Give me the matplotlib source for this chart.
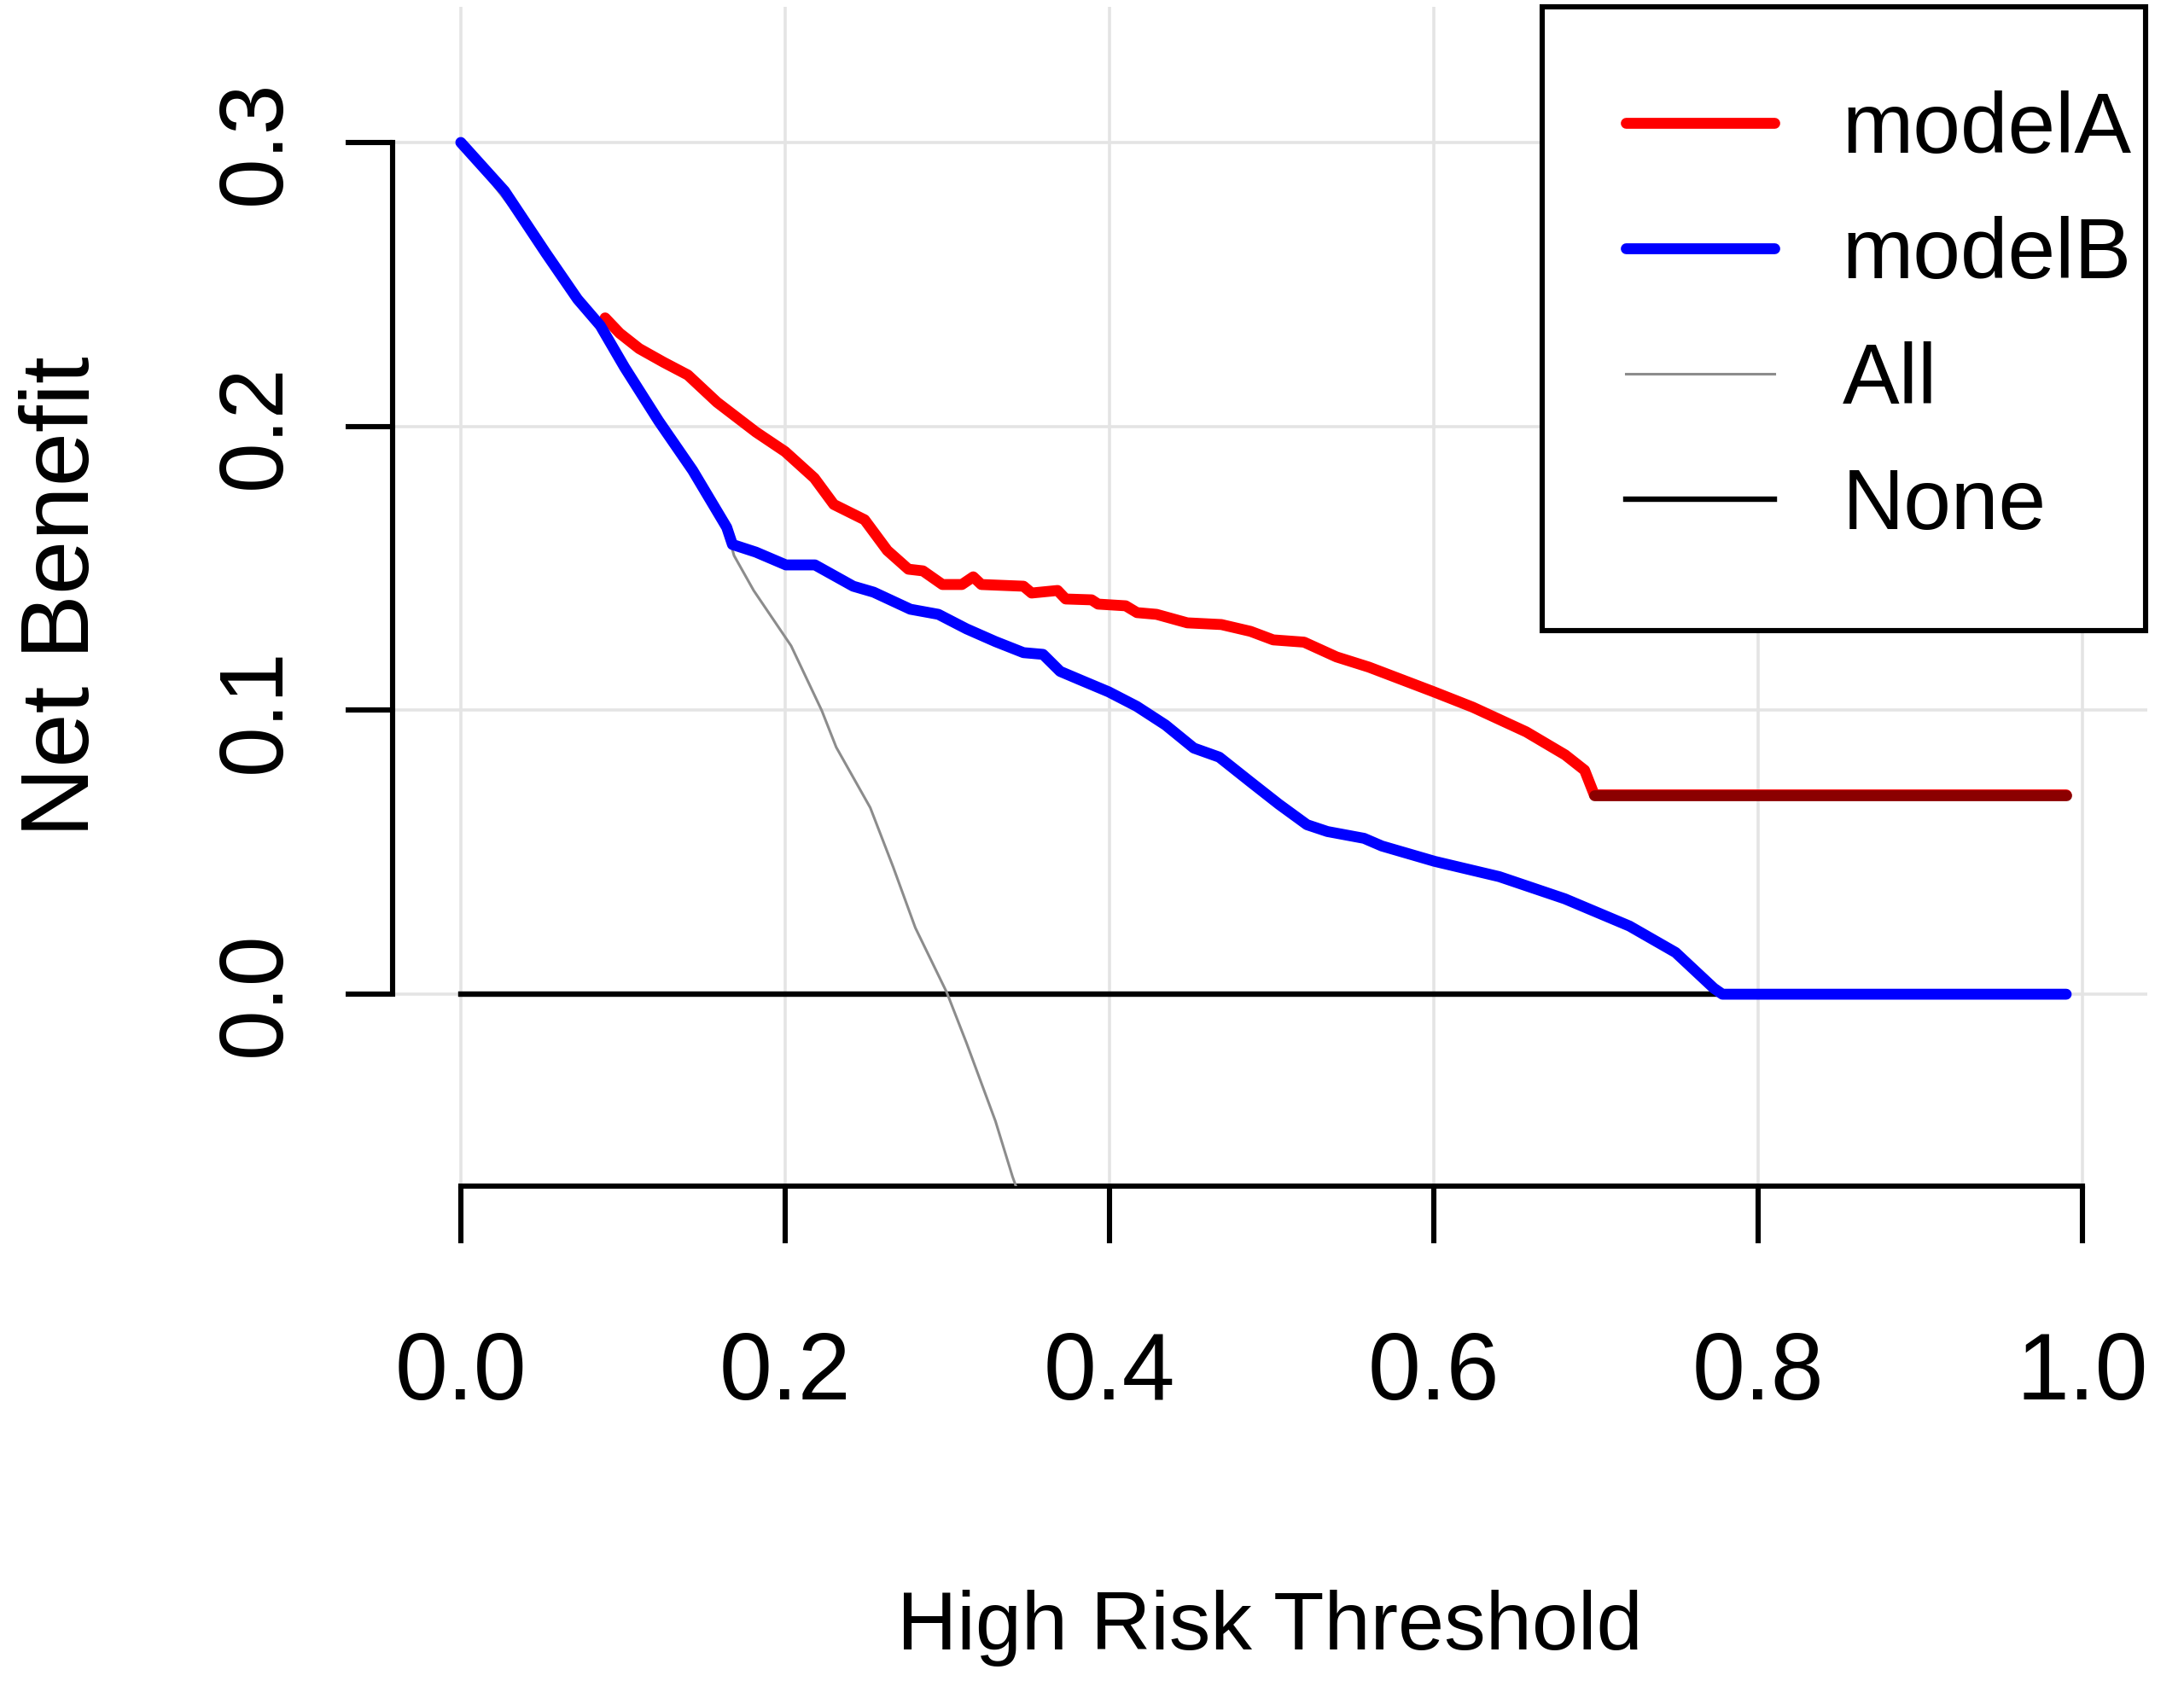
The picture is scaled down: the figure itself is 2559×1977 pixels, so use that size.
import matplotlib
matplotlib.use('Agg')
import matplotlib.pyplot as plt

# decision curve values
modelA_t = [0.089, 0.098, 0.110, 0.125, 0.140, 0.158, 0.182, 0.200, 0.218, 0.230,
            0.249, 0.263, 0.276, 0.285, 0.297, 0.309, 0.316, 0.321, 0.347, 0.352,
            0.368, 0.373, 0.389, 0.393, 0.410, 0.417, 0.429, 0.448, 0.469, 0.487,
            0.501, 0.520, 0.540, 0.560, 0.600, 0.624, 0.657, 0.681, 0.693, 0.699, 0.99]
modelA_v = [0.2382, 0.2328, 0.2274, 0.2226, 0.2181, 0.2085, 0.1980, 0.1911, 0.1818, 0.1725,
            0.1671, 0.1563, 0.1497, 0.1491, 0.1443, 0.1443, 0.1470, 0.1443, 0.1437, 0.1413,
            0.1422, 0.1392, 0.1389, 0.1374, 0.1368, 0.1344, 0.1338, 0.1308, 0.1302, 0.1278,
            0.1248, 0.1240, 0.1188, 0.1152, 0.1065, 0.1011, 0.0924, 0.0843, 0.0789, 0.0702, 0.0702]

modelB_t = [0.0, 0.027, 0.0525, 0.072, 0.086, 0.101, 0.122, 0.143, 0.164, 0.1675,
            0.182, 0.2005, 0.2184, 0.242, 0.2546, 0.2772, 0.2945, 0.3118, 0.3297, 0.347,
            0.359, 0.3696, 0.382, 0.3995, 0.4168, 0.4346, 0.452, 0.4677, 0.4871, 0.5045,
            0.5218, 0.5344, 0.557, 0.568, 0.6005, 0.6404, 0.6808, 0.7207, 0.7491, 0.7727,
            0.778, 0.99]
modelB_v = [0.300, 0.2829, 0.2610, 0.2448, 0.2355, 0.2208, 0.2019, 0.1845, 0.1644, 0.1584,
            0.1557, 0.1512, 0.1512, 0.1437, 0.1416, 0.1356, 0.1338, 0.1287, 0.1242, 0.1203,
            0.1197, 0.1137, 0.1107, 0.1065, 0.1014, 0.0948, 0.0867, 0.0835, 0.0747, 0.0669,
            0.0597, 0.0573, 0.0549, 0.0522, 0.0468, 0.0414, 0.0336, 0.0240, 0.0147, 0.0021,
            0.0, 0.0]

all_t = [0.0, 0.05, 0.10, 0.122, 0.143, 0.164, 0.1685, 0.1806, 0.2037, 0.2226, 0.2315,
         0.2525, 0.2667, 0.2803, 0.2997, 0.3118, 0.3297, 0.3402, 0.35]
all_v = [0.300, 0.263, 0.222, 0.2012, 0.1840, 0.1636, 0.1545, 0.1422, 0.1227, 0.0999, 0.0870,
         0.0657, 0.0447, 0.0234, 0.0006, -0.0171, -0.0447, -0.0642, -0.080]

none_t = [0.0, 0.99]
none_v = [0.0, 0.0]

xticks = [0.0, 0.2, 0.4, 0.6, 0.8, 1.0]
xtick_labels = ['0.0', '0.2', '0.4', '0.6', '0.8', '1.0']
yticks = [0.0, 0.1, 0.2, 0.3]
ytick_labels = ['0.0', '0.1', '0.2', '0.3']

plt.rcParams['font.family'] = ['Liberation Sans', 'DejaVu Sans']

fig = plt.figure(figsize=(12.795, 9.885), dpi=200)
ax = fig.add_axes([0.1798, 0.2969, 0.8034, 0.6991])
ax.set_xlim(-0.042, 1.04)
ax.set_ylim(-0.0676, 0.3478)

ax.grid(True, color='#e4e4e4', linewidth=1.3)
ax.set_axisbelow(True)

ax.plot(none_t, none_v, color='black', linewidth=2.3, label='None', zorder=3)
ax.plot(all_t, all_v, color='#8c8c8c', linewidth=1.1, label='All', zorder=4)
ax.plot(modelA_t, modelA_v, color='#ff0000', linewidth=4.6, label='modelA',
        solid_capstyle='round', zorder=5)
ax.plot(modelA_t[-2:], modelA_v[-2:], color='#8b0000', linewidth=4.6,
        solid_capstyle='round', zorder=5)
ax.plot(modelB_t, modelB_v, color='#0000ff', linewidth=4.6, label='modelB',
        solid_capstyle='round', zorder=6)

for s in ['top', 'right']:
    ax.spines[s].set_visible(False)
ax.spines['left'].set_bounds(0.0, 0.3)
ax.spines['bottom'].set_bounds(0.0, 1.0)
ax.spines['left'].set_linewidth(2.2)
ax.spines['bottom'].set_linewidth(2.2)

ax.set_xticks(xticks, xtick_labels, fontsize=40)
ax.set_yticks(yticks, ytick_labels, fontsize=38, rotation=90, va='center')
ax.tick_params(axis='x', length=24, width=2.2, pad=37)
ax.tick_params(axis='y', length=19.8, width=2.2, pad=20)

ax.set_xlabel('High Risk Threshold', fontsize=35, labelpad=72)
ax.set_ylabel('Net Benefit', fontsize=41, labelpad=44)

handles, labels = ax.get_legend_handles_labels()
order = [labels.index(n) for n in ['modelA', 'modelB', 'All', 'None']]
leg = ax.legend([handles[i] for i in order], [labels[i] for i in order],
                loc='upper right', bbox_to_anchor=(0.655, 0.0, 0.344, 1.0),
                mode='expand', borderaxespad=0, borderpad=0.98, handlelength=1.74,
                handletextpad=0.80, labelspacing=0.53, fancybox=False, framealpha=1,
                edgecolor='black', fontsize=36)
leg.get_frame().set_linewidth(2.2)

fig.savefig('out.png', dpi=200)
